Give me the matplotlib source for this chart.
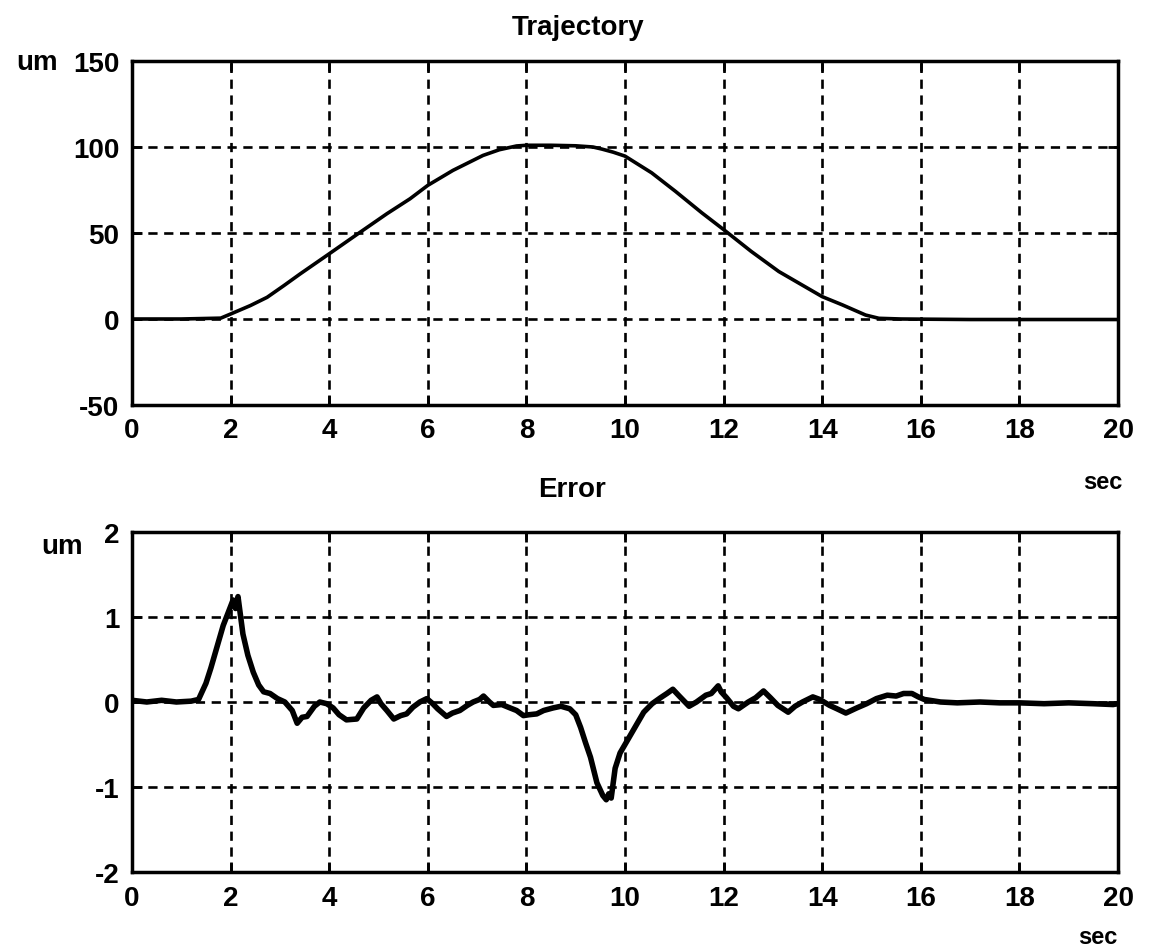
import matplotlib
matplotlib.use('Agg')
import matplotlib.pyplot as plt

# Trajectory (um) vs time (sec)
traj_t = [0, 1.0, 1.8, 2.0, 2.4, 2.74, 3.08, 3.41, 4.0, 4.63, 5.17, 5.64, 6.0, 6.51,
          7.12, 7.45, 7.8, 8.0, 8.5, 9.0, 9.35, 9.53, 9.76, 10.0, 10.54, 11.02, 11.56,
          12.0, 12.56, 13.12, 13.59, 14.0, 14.41, 14.88, 15.15, 15.6, 17.0, 20.0]
traj_um = [0, 0, 0.5, 2.9, 7.8, 12.6, 19.4, 26.2, 37.9, 50.5, 61.2, 69.9, 77.7, 86.4,
           95.1, 98.4, 100.6, 101, 101, 100.7, 100, 98.8, 97, 94.7, 85, 74.3, 61.7,
           52, 39.3, 27.6, 19.8, 13, 8.2, 2.3, 0.4, 0, -0.3, -0.3]

# Tracking error (um) vs time (sec)
err_t = [0, 0.3, 0.6, 0.9, 1.2, 1.35, 1.5, 1.6, 1.7, 1.85, 1.95, 2.05, 2.1, 2.15, 2.25,
         2.35, 2.46, 2.57, 2.67, 2.8, 2.95, 3.1, 3.25, 3.35, 3.45, 3.55, 3.7, 3.81, 3.95,
         4.08, 4.2, 4.35, 4.56, 4.7, 4.85, 4.97, 5.05, 5.17, 5.31, 5.45, 5.57, 5.7, 5.84,
         5.98, 6.1, 6.2, 6.38, 6.5, 6.65, 6.8, 6.92, 7.05, 7.13, 7.25, 7.33, 7.5, 7.67,
         7.8, 7.94, 8.05, 8.21, 8.35, 8.54, 8.7, 8.88, 9.0, 9.1, 9.2, 9.3, 9.43, 9.55,
         9.62, 9.67, 9.72, 9.8, 9.9, 10.05, 10.2, 10.38, 10.55, 10.72, 10.85, 10.97, 11.1,
         11.3, 11.45, 11.64, 11.75, 11.89, 11.95, 12.06, 12.2, 12.3, 12.5, 12.65, 12.81,
         12.95, 13.1, 13.31, 13.45, 13.6, 13.81, 13.95, 14.15, 14.3, 14.48, 14.7, 14.9,
         15.1, 15.32, 15.5, 15.65, 15.82, 15.95, 16.07, 16.4, 16.74, 17.2, 17.6, 18.0,
         18.5, 19.0, 19.5, 19.9, 20.0]
err_um = [0.02, 0.0, 0.02, 0.0, 0.01, 0.03, 0.22, 0.4, 0.6, 0.9, 1.05, 1.2, 1.1, 1.24, 0.8,
          0.55, 0.35, 0.2, 0.12, 0.1, 0.04, 0.0, -0.1, -0.25, -0.18, -0.17, -0.05, 0.0, -0.02,
          -0.07, -0.15, -0.21, -0.2, -0.07, 0.02, 0.06, -0.02, -0.1, -0.2, -0.16, -0.14, -0.06, 0.0,
          0.04, -0.02, -0.08, -0.17, -0.13, -0.1, -0.04, 0.0, 0.03, 0.07, 0.0, -0.04, -0.03, -0.07,
          -0.1, -0.16, -0.15, -0.14, -0.1, -0.07, -0.05, -0.08, -0.15, -0.3, -0.48, -0.65, -0.95, -1.1,
          -1.15, -1.08, -1.13, -0.78, -0.6, -0.45, -0.3, -0.12, -0.02, 0.05, 0.1, 0.15, 0.07,
          -0.05, 0.0, 0.08, 0.1, 0.19, 0.12, 0.05, -0.05, -0.08, 0.0, 0.05, 0.13,
          0.05, -0.04, -0.12, -0.05, 0.0, 0.06, 0.03, -0.04, -0.08, -0.13, -0.07, -0.02,
          0.04, 0.08, 0.07, 0.1, 0.1, 0.06, 0.03, 0.0, -0.01, 0.0, -0.01, -0.01,
          -0.02, -0.01, -0.02, -0.03, -0.02]

x_ticks = [0, 2, 4, 6, 8, 10, 12, 14, 16, 18, 20]
traj_ticks = [-50, 0, 50, 100, 150]
err_ticks = [-2, -1, 0, 1, 2]

plt.rcParams['font.family'] = ['Liberation Sans', 'DejaVu Sans']
plt.rcParams['font.weight'] = 'bold'
plt.rcParams['axes.unicode_minus'] = False
FS = 20

fig = plt.figure(figsize=(11.55, 9.53), dpi=100)
ax1 = fig.add_axes([132/1155, 1-406/953, (1118-132)/1155, (406-62)/953])
ax2 = fig.add_axes([132/1155, 1-873/953, (1118-132)/1155, (873-533)/953])


def style_axes(ax, yticks):
    ax.set_xlim(0, 20)
    ax.set_ylim(yticks[0], yticks[-1])
    ax.set_xticks(x_ticks)
    ax.set_yticks(yticks)
    ax.grid(True, color='black', linestyle=(0, (3.5, 2.5)), linewidth=1.9)
    ax.tick_params(direction='in', length=7, width=2, top=True, right=True,
                   labelsize=FS, pad=9)
    for sp in ax.spines.values():
        sp.set_linewidth(2.5)
        sp.set_color('black')


ax1.plot(traj_t, traj_um, color='black', linewidth=2.6)
style_axes(ax1, traj_ticks)

ax2.plot(err_t, err_um, color='black', linewidth=4)
style_axes(ax2, err_ticks)

fig.text(578/1155, 1-28/953, 'Trajectory', ha='center', va='center', fontsize=FS)
fig.text(572/1155, 1-490/953, 'Error', ha='center', va='center', fontsize=FS)
fig.text(37/1155, 1-63/953, 'um', ha='center', va='center', fontsize=FS)
fig.text(62/1155, 1-547/953, 'um', ha='center', va='center', fontsize=FS)
fig.text(1103/1155, 1-483/953, 'sec', ha='center', va='center', fontsize=FS - 3)
fig.text(1098/1155, 1-938/953, 'sec', ha='center', va='center', fontsize=FS - 3)

fig.savefig('out.png', dpi=100, facecolor='white')
